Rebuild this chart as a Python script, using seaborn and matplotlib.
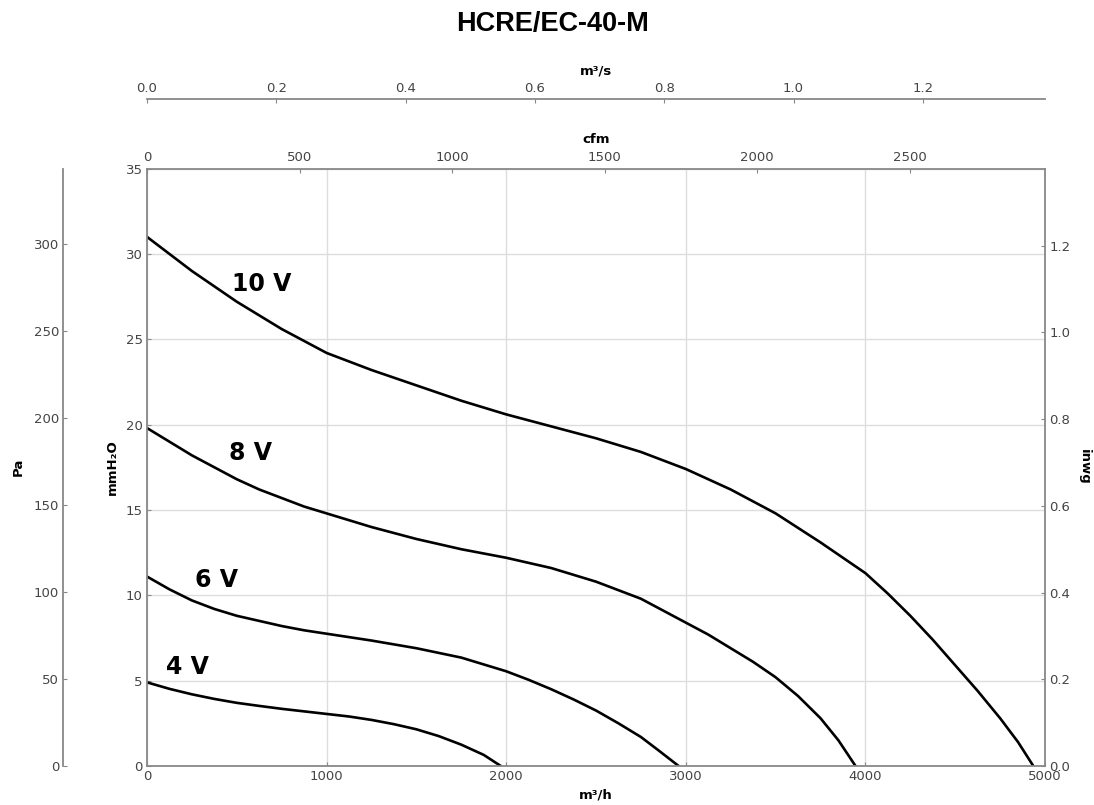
#!/usr/bin/env python3

import pandas as pd
import seaborn as sns
import matplotlib.pyplot as plt
from matplotlib.ticker import FormatStrFormatter

# fan curves: flow in m3/h, pressure in mmH2O
flow_10v = [0, 125, 250, 375, 500, 625, 750, 875, 1000, 1250, 1500, 1750, 2000, 2250,
            2500, 2750, 3000, 3250, 3500, 3750, 4000, 4125, 4250, 4375, 4500, 4625,
            4750, 4850, 4935]
press_10v = [31.0, 30.0, 29.0, 28.1, 27.2, 26.4, 25.6, 24.9, 24.2, 23.2, 22.3, 21.4, 20.6, 19.9,
             19.2, 18.4, 17.4, 16.2, 14.8, 13.1, 11.3, 10.1, 8.8, 7.4, 5.9, 4.4,
             2.8, 1.4, 0.0]
flow_8v = [0, 125, 250, 375, 500, 625, 750, 875, 1000, 1250, 1500, 1750, 2000, 2250,
           2500, 2750, 3000, 3125, 3250, 3375, 3500, 3625, 3750, 3850, 3945]
press_8v = [19.8, 19.0, 18.2, 17.5, 16.8, 16.2, 15.7, 15.2, 14.8, 14.0, 13.3, 12.7, 12.2, 11.6,
            10.8, 9.8, 8.4, 7.7, 6.9, 6.1, 5.2, 4.1, 2.8, 1.5, 0.0]
flow_6v = [0, 125, 250, 375, 500, 625, 750, 875, 1000, 1250, 1500, 1750, 2000, 2125,
           2250, 2375, 2500, 2625, 2750, 2850, 2960]
press_6v = [11.1, 10.35, 9.7, 9.2, 8.8, 8.5, 8.2, 7.95, 7.75, 7.35, 6.9, 6.35, 5.55, 5.05,
            4.5, 3.9, 3.25, 2.5, 1.7, 0.9, 0.0]
flow_4v = [0, 125, 250, 375, 500, 625, 750, 875, 1000, 1125, 1250, 1375, 1500, 1625,
           1750, 1875, 1970]
press_4v = [4.9, 4.52, 4.2, 3.93, 3.7, 3.52, 3.35, 3.2, 3.05, 2.9, 2.7, 2.45, 2.15, 1.75,
            1.25, 0.65, 0.0]

labels = ['10 V', '8 V', '6 V', '4 V']
label_x = [476, 458, 267, 106]
label_y = [27.8, 17.9, 10.5, 5.4]

# unit conversions
PA_PER_MM = 9.80665
PA_PER_INWG = 249.089
M3H_PER_CFM = 1.69901
M3H_PER_M3S = 3600.0
XMAX = 5000
YMAX = 35

df = pd.concat([
    pd.DataFrame({'flow': flow_10v, 'pressure': press_10v, 'speed': '10 V'}),
    pd.DataFrame({'flow': flow_8v, 'pressure': press_8v, 'speed': '8 V'}),
    pd.DataFrame({'flow': flow_6v, 'pressure': press_6v, 'speed': '6 V'}),
    pd.DataFrame({'flow': flow_4v, 'pressure': press_4v, 'speed': '4 V'}),
])

sns.set_style('white')
plt.rcParams['font.family'] = ['DejaVu Sans']
plt.rcParams['text.color'] = 'black'
plt.rcParams['axes.labelcolor'] = 'black'

spine_col = '#888888'
tick_col = '#444444'

fig = plt.figure(figsize=(10.94, 8.05), dpi=100)
ax = fig.add_axes([147 / 1094, 1 - 766 / 805, 898 / 1094, 597.4 / 805])

sns.lineplot(data=df, x='flow', y='pressure', hue='speed', sort=False,
             palette=['black'] * 4, legend=False, lw=1.9, ax=ax)
for lab, lx, ly in zip(labels, label_x, label_y):
    ax.text(lx, ly, lab, fontsize=17, fontweight='bold', color='black',
            ha='left', va='baseline')

ax.set_xlim(0, XMAX)
ax.set_ylim(0, YMAX)
ax.set_xticks(range(0, 5001, 1000))
ax.set_yticks(range(0, 36, 5))
ax.grid(True, color='#dddddd', lw=1)
ax.tick_params(direction='in', length=3, width=0.8, color=spine_col, labelcolor=tick_col,
               labelsize=9.5, pad=3, top=False, right=False)
for s in ax.spines.values():
    s.set_color(spine_col)
    s.set_linewidth(1.3)
ax.set_xlabel('m³/h', fontsize=9.5, fontweight='bold')
ax.set_ylabel('mmH₂O', fontsize=9.5, fontweight='bold')
ax.xaxis.set_label_coords(0.5, -0.0385)
ax.yaxis.set_label_coords(-0.031, 0.5)

# cfm on top
axc = ax.twiny()
axc.set_xlim(0, XMAX / M3H_PER_CFM)
axc.set_xticks(range(0, 2501, 500))
axc.tick_params(direction='in', length=3, width=0.8, color=spine_col, labelcolor=tick_col,
                labelsize=9.5, pad=3)
for s in axc.spines.values():
    s.set_visible(False)
axc.set_xlabel('cfm', fontsize=9.5, fontweight='bold')
axc.xaxis.set_label_coords(0.5, 1.0428)

# m3/s further up
axs = ax.twiny()
axs.set_xlim(0, XMAX / M3H_PER_M3S)
axs.set_xticks([0, 0.2, 0.4, 0.6, 0.8, 1.0, 1.2])
axs.xaxis.set_major_formatter(FormatStrFormatter('%.1f'))
axs.tick_params(direction='in', length=3, width=0.8, color=spine_col, labelcolor=tick_col,
                labelsize=9.5, pad=3)
for name, s in axs.spines.items():
    s.set_visible(name == 'top')
axs.spines['top'].set_position(('outward', 49.9))
axs.spines['top'].set_color(spine_col)
axs.spines['top'].set_linewidth(1.3)
axs.set_xlabel('m³/s', fontsize=9.5, fontweight='bold')
axs.xaxis.set_label_coords(0.5, 1.1567)

# Pa on the far left
axp = ax.twinx()
axp.set_ylim(0, YMAX * PA_PER_MM)
axp.set_yticks(range(0, 301, 50))
axp.yaxis.tick_left()
axp.yaxis.set_label_position('left')
axp.tick_params(direction='in', length=3, width=0.8, color=spine_col, labelcolor=tick_col,
                labelsize=9.5, pad=3)
for name, s in axp.spines.items():
    s.set_visible(name == 'left')
axp.spines['left'].set_position(('outward', 60.3))
axp.spines['left'].set_color(spine_col)
axp.spines['left'].set_linewidth(1.3)
axp.set_ylabel('Pa', fontsize=9.5, fontweight='bold')
axp.yaxis.set_label_coords(-0.136, 0.5)

# inwg on the right
axi = ax.twinx()
axi.set_ylim(0, YMAX * PA_PER_MM / PA_PER_INWG)
axi.set_yticks([0, 0.2, 0.4, 0.6, 0.8, 1.0, 1.2])
axi.yaxis.set_major_formatter(FormatStrFormatter('%.1f'))
axi.tick_params(direction='in', length=3, width=0.8, color=spine_col, labelcolor=tick_col,
                labelsize=9.5, pad=3)
for s in axi.spines.values():
    s.set_visible(False)
axi.set_ylabel('inwg', fontsize=9.5, fontweight='bold', rotation=270, va='bottom')
axi.yaxis.set_label_coords(1.0367, 0.5)

fig.text(0.505, 0.970, 'HCRE/EC-40-M', fontsize=19.5, fontweight='bold', color='black',
         family=['Liberation Sans', 'DejaVu Sans'], ha='center', va='center')

plt.savefig('out.png', dpi=100)
plt.close()
